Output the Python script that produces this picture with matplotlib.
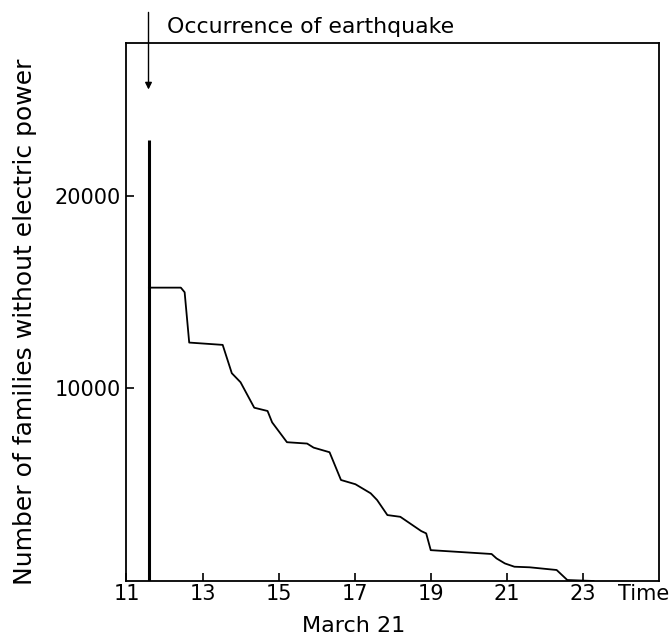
import numpy as np
import matplotlib
matplotlib.use("Agg")
import matplotlib.pyplot as plt

# power outage recovery after the earthquake (March 21)
hours = [11.59, 12.43, 12.53, 12.65, 13.53, 13.77, 14.0, 14.36, 14.71, 14.83,
         15.22, 15.75, 15.92, 16.34, 16.64, 17.02, 17.42, 17.59, 17.86, 18.2,
         18.75, 18.88, 19.0, 20.6, 20.73, 20.95, 21.2, 21.6, 22.31, 22.59, 23.28]
families = [15220, 15220, 14980, 12370, 12250, 10780, 10310, 8990, 8820, 8230,
            7200, 7130, 6920, 6680, 5240, 5020, 4550, 4200, 3420, 3330,
            2590, 2470, 1600, 1400, 1170, 910, 740, 710, 570, 50, 0]

quake_time = 11.58
quake_top = 22900
arrow_start = 29500
arrow_end = 25500

xticks = [11, 13, 15, 17, 19, 21, 23]
xtick_labels = ["11", "13", "15", "17", "19", "21", "23"]
yticks = [10000, 20000]
ytick_labels = ["10000", "20000"]

plt.rcParams["font.family"] = "DejaVu Sans"

fig = plt.figure(figsize=(6.69, 6.36), dpi=100)
ax = fig.add_axes([0.189, 0.0865, 0.796, 0.8455])

ax.plot(hours, families, color="black", lw=1.3)
ax.vlines(quake_time, 0, quake_top, color="black", lw=2.2)

ax.annotate("", xy=(quake_time, arrow_end), xytext=(quake_time, arrow_start),
            xycoords="data", annotation_clip=False,
            arrowprops=dict(arrowstyle="-|>", color="black", lw=1.0,
                            mutation_scale=10, shrinkA=0, shrinkB=0))
ax.text(12.06, 28750, "Occurrence of earthquake", fontsize=15.8,
        va="center", ha="left", clip_on=False)

ax.set_xlim(11, 25)
ax.set_ylim(0, 27900)
ax.set_xticks(xticks)
ax.set_xticklabels(xtick_labels)
ax.set_yticks(yticks)
ax.set_yticklabels(ytick_labels)
ax.tick_params(direction="in", length=6, width=1.2, labelsize=15, pad=4)
ax.tick_params(axis="x", pad=2.5)

for s in ax.spines.values():
    s.set_linewidth(1.3)

ax.text(23.92, -0.024, "Time", transform=ax.get_xaxis_transform(),
        fontsize=15, ha="left", va="center", clip_on=False)
ax.text(16.97, -0.084, "March 21", transform=ax.get_xaxis_transform(),
        fontsize=16, ha="center", va="center", clip_on=False)

fig.text(25 / 669, 1 - 322 / 636, "Number of families without electric power",
         rotation=90, ha="center", va="center", fontsize=18)

fig.savefig("out.png", dpi=100)
